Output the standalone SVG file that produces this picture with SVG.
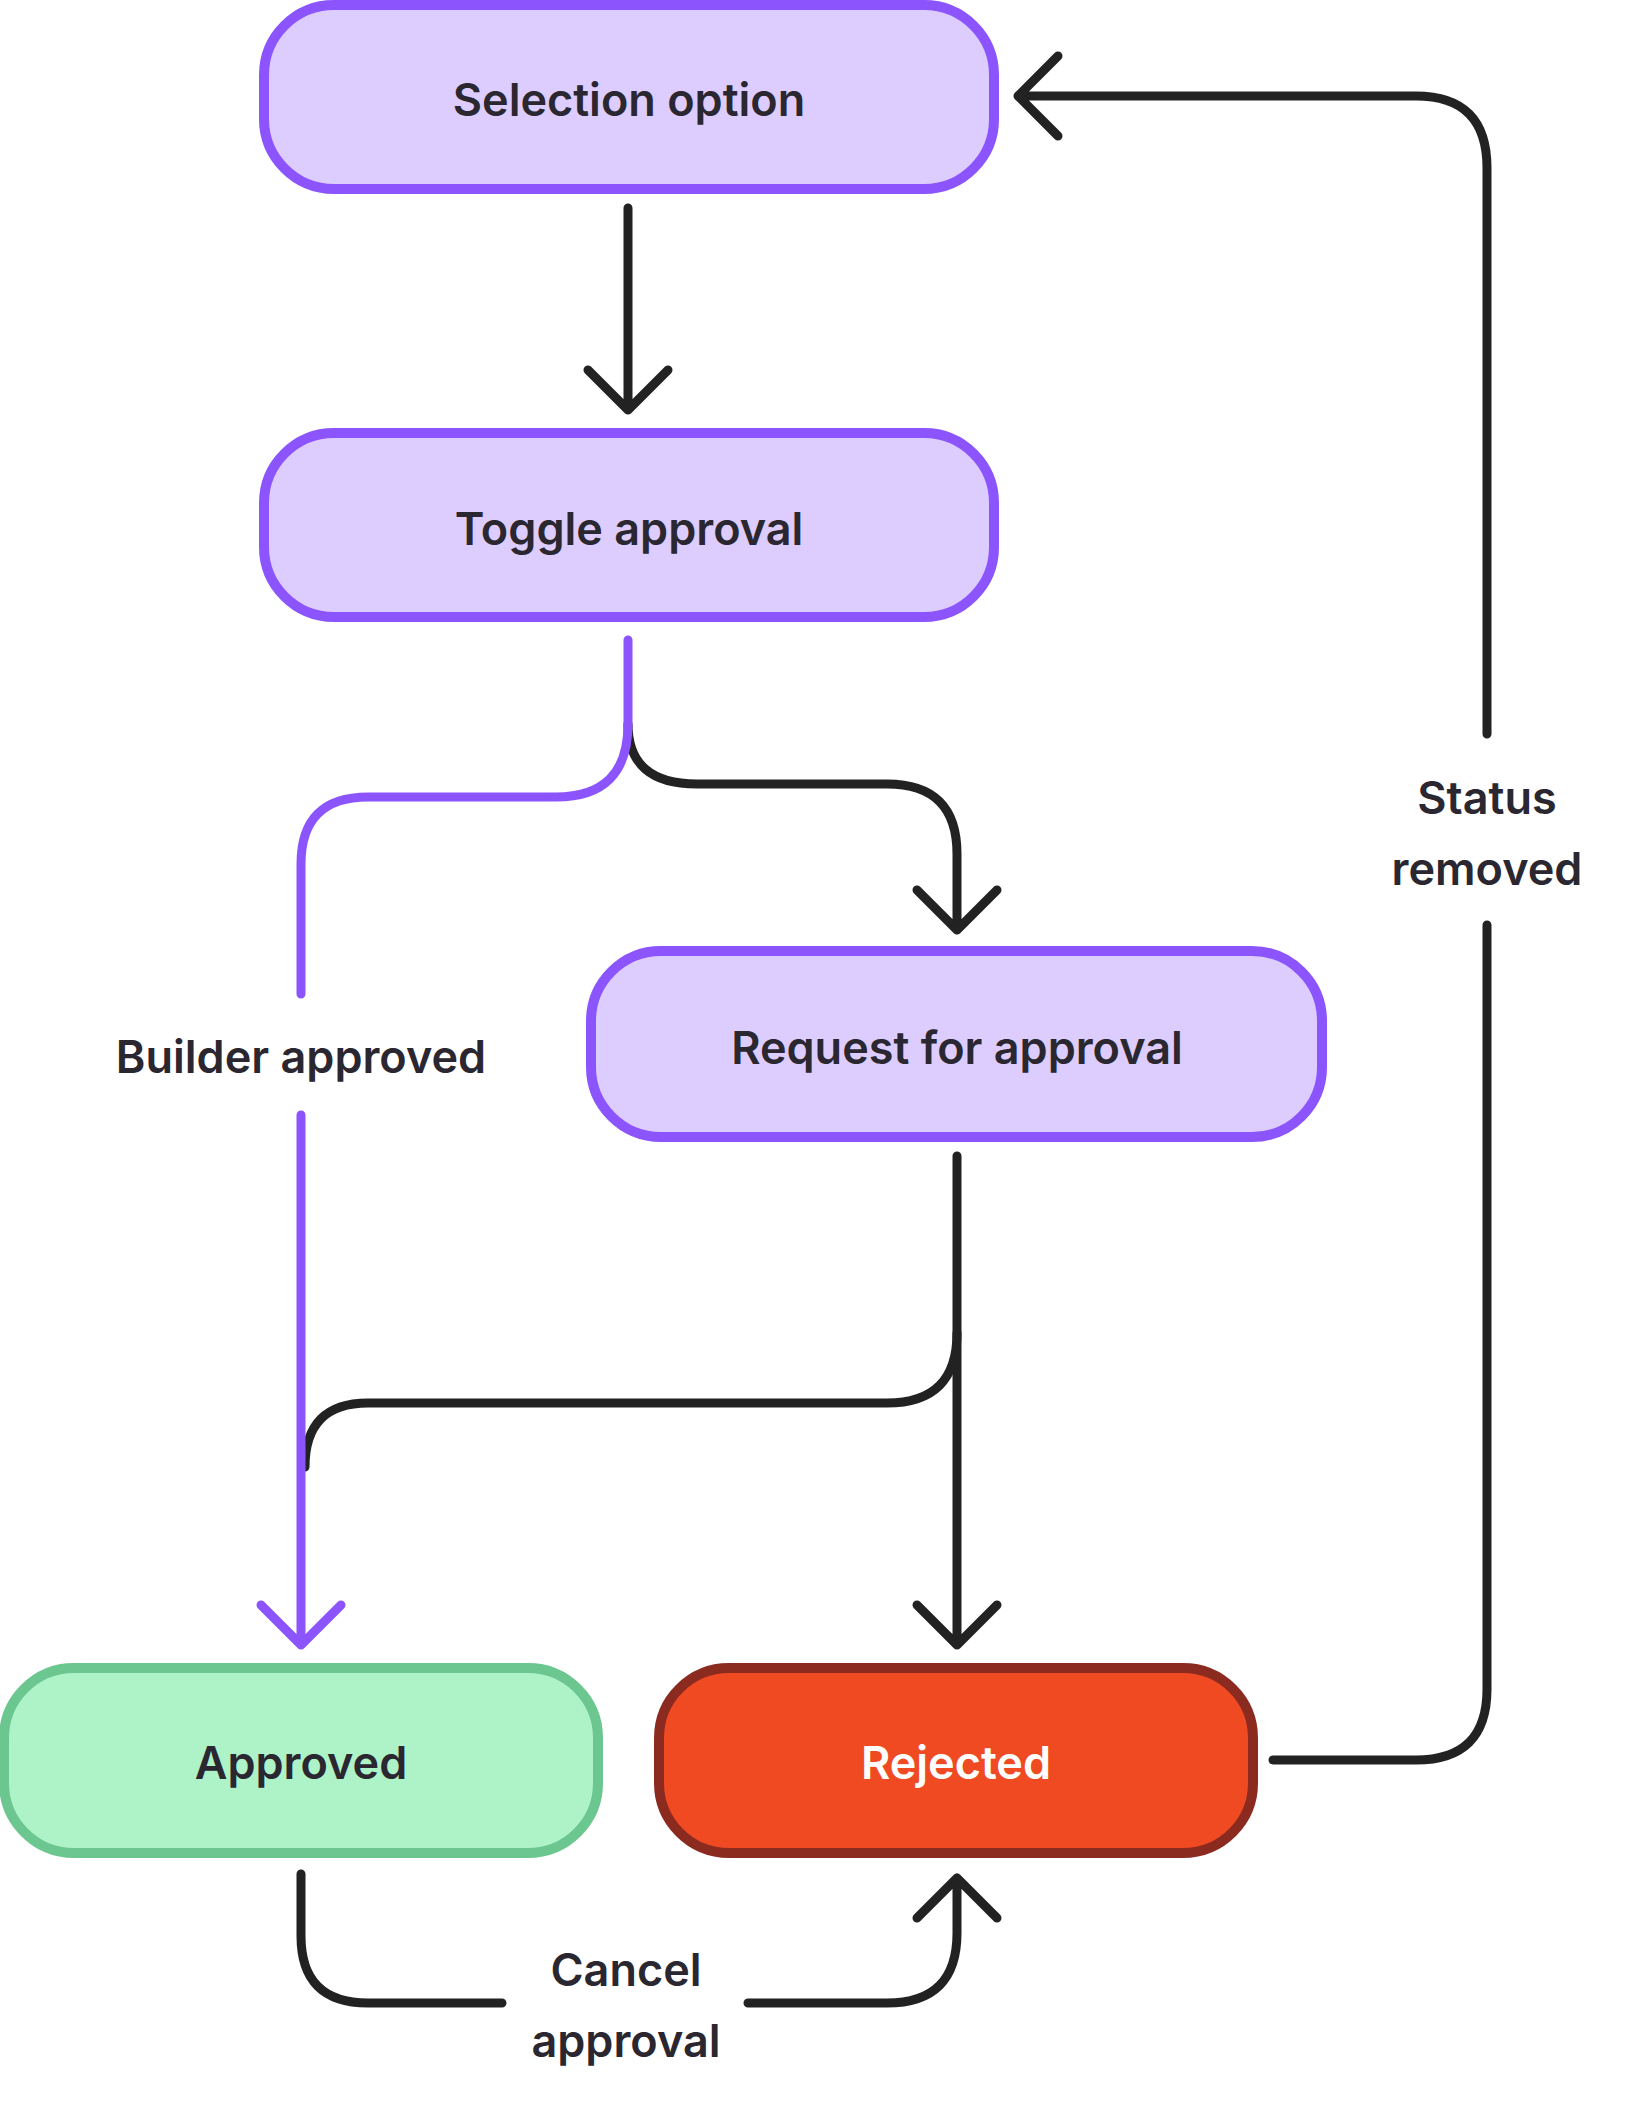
<svg xmlns="http://www.w3.org/2000/svg" width="1625" height="2114" viewBox="0 0 1625 2114">
<style>
.n{fill:#ddcdfe;stroke:#8b54fd;stroke-width:10}
text{font-family:Inter,"Liberation Sans",sans-serif;font-weight:600;font-size:45px;fill:#2b2730;text-anchor:middle;dominant-baseline:central}
.c{fill:none;stroke:#222;stroke-width:9;stroke-linecap:round;stroke-linejoin:round}
.p{stroke:#8b54fd}
</style>
<rect width="1625" height="2114" fill="#fff"/>
<g id="connectors">
<path class="c" d="M628,208 V408 M588,370 L628,410 L668,370"/>
<path class="c" d="M628,724 Q628,784 697,784 H887 Q957,784 957,854 V930 M917,890 L957,930 L997,890"/>
<path class="c" d="M957,1156 V1645 M917,1605 L957,1645 L997,1605"/>
<path class="c" d="M957,1333 Q957,1403 887,1403 H368 Q305,1403 305,1467"/>
<path class="c p" d="M628,640 V724 Q628,797 556,797 H368 Q301,797 301,864 V994"/>
<path class="c p" d="M301,1115 V1645 M261,1605 L301,1645 L341,1605"/>
<path class="c" d="M1273,1760 H1416 Q1487,1760 1487,1689 V925"/>
<path class="c" d="M1487,734 V168 Q1487,96 1416,96 H1018 M1058,56 L1018,96 L1058,136"/>
<path class="c" d="M301,1874 V1936 Q301,2003 368,2003 H502"/>
<path class="c" d="M748,2003 H887 Q957,2003 957,1933 V1878 M917,1918 L957,1878 L997,1918"/>
<text x="301" y="1056">Builder approved</text>
<text x="1487" y="797">Status</text>
<text x="1487" y="868">removed</text>
<text x="626" y="1969">Cancel</text>
<text x="626" y="2040">approval</text>
</g>
<g id="selection"><rect class="n" x="264" y="5" width="730" height="184" rx="70"/><text x="629" y="99">Selection option</text></g>
<g id="toggle"><rect class="n" x="264" y="433" width="730" height="184" rx="70"/><text x="629" y="528">Toggle approval</text></g>
<g id="request"><rect class="n" x="591" y="951" width="731" height="186" rx="70"/><text x="957" y="1047">Request for approval</text></g>
<g id="approved"><rect x="4" y="1668" width="594" height="185" rx="70" fill="#aef2c8" stroke="#6cc68f" stroke-width="10"/><text x="301" y="1762">Approved</text></g>
<g id="rejected"><rect x="659" y="1668" width="594" height="185" rx="70" fill="#f04a23" stroke="#8b2b20" stroke-width="10"/><text x="956" y="1762" style="fill:#fff">Rejected</text></g>
</svg>
